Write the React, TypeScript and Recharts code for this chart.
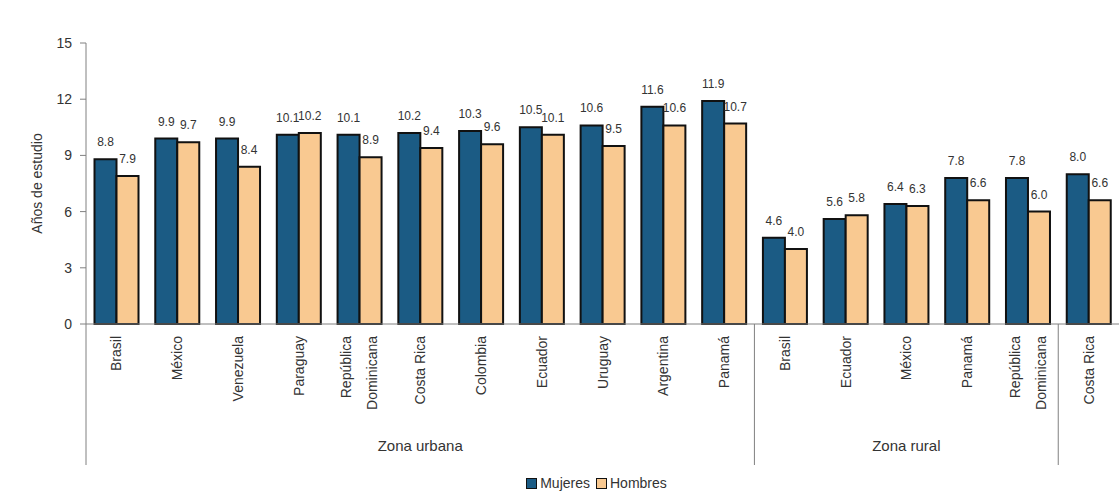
import React from 'react';
import { BarChart, Bar, XAxis, YAxis, LabelList, Legend } from 'recharts';

const categories = [
  'Brasil', 'México', 'Venezuela', 'Paraguay', 'República\nDominicana', 'Costa Rica',
  'Colombia', 'Ecuador', 'Uruguay', 'Argentina', 'Panamá',
  'Brasil', 'Ecuador', 'México', 'Panamá', 'República\nDominicana', 'Costa Rica',
];
const mujeres = [8.8, 9.9, 9.9, 10.1, 10.1, 10.2, 10.3, 10.5, 10.6, 11.6, 11.9, 4.6, 5.6, 6.4, 7.8, 7.8, 8.0];
const hombres = [7.9, 9.7, 8.4, 10.2, 8.9, 9.4, 9.6, 10.1, 9.5, 10.6, 10.7, 4.0, 5.8, 6.3, 6.6, 6.0, 6.6];
const groups = [
  { label: 'Zona urbana', from: 0, to: 10 },
  { label: 'Zona rural', from: 11, to: 15 },
  { label: '', from: 16, to: 16 },
];
const yTicks = [0, 3, 6, 9, 12, 15];
const seriesNames = ['Mujeres', 'Hombres'];

const data = categories.map((name, i) => ({ id: i, name, mujeres: mujeres[i], hombres: hombres[i] }));

const W = 1119;
const H = 495;
const Y_W = 86;
const FONT = '"Liberation Sans", Arial, sans-serif';
const BLUE = '#1b5b84';
const ORANGE = '#f9c991';
const TEXT = '#333';
const AXIS = '#808080';

const CategoryTick = (props: any) => {
  const { x, y, payload, index } = props;
  const half = payload && payload.offset ? payload.offset : (W - Y_W) / categories.length / 2;
  const label: string = categories[index] ?? String(payload.value);
  const lines = label.split('\n');
  const grp = groups.find((g) => g.from === index);
  const lineGap = 26;
  return (
    <g>
      <text
        transform={`translate(${x},${y + 12}) rotate(-90)`}
        textAnchor="end"
        fontSize={14}
        fill={TEXT}
        fontFamily={FONT}
      >
        {lines.map((l, i) => (
          <tspan key={i} x={0} y={5 + (i - (lines.length - 1) / 2) * lineGap}>
            {l}
          </tspan>
        ))}
      </text>
      {grp && (
        <line x1={x - half} x2={x - half} y1={y} y2={y + 141} stroke={AXIS} strokeWidth={1} />
      )}
      {grp && grp.label && (
        <text
          x={x - half + ((grp.to - grp.from + 1) * half * 2) / 2}
          y={y + 127}
          textAnchor="middle"
          fontSize={15}
          fill={TEXT}
          fontFamily={FONT}
        >
          {grp.label}
        </text>
      )}
    </g>
  );
};

const ValueLabel = (props: any) => {
  const { x, y, width, value } = props;
  if (value == null) return null;
  return (
    <text
      x={Number(x) + Number(width) / 2}
      y={Number(y) - 13}
      textAnchor="middle"
      fontSize={12}
      fill={TEXT}
      fontFamily={FONT}
    >
      {Number(value).toFixed(1)}
    </text>
  );
};

const LegendContent = () => (
  <div
    style={{
      display: 'flex',
      justifyContent: 'center',
      alignItems: 'center',
      paddingLeft: 80,
      fontFamily: FONT,
      fontSize: 14,
      color: TEXT,
      height: 24,
    }}
  >
    {seriesNames.map((n, i) => (
      <div key={n} style={{ display: 'flex', alignItems: 'center', marginRight: 6 }}>
        <span
          style={{
            display: 'inline-block',
            width: 9,
            height: 9,
            background: i === 0 ? BLUE : ORANGE,
            border: '1.5px solid #111',
            marginRight: 3,
          }}
        />
        <span>{n}</span>
      </div>
    ))}
  </div>
);

export default function App() {
  return (
    <div style={{ position: 'absolute', left: 0, top: 0, width: W, height: H, background: '#fff' }}>
      <BarChart
        width={W}
        height={H}
        data={data}
        margin={{ top: 43, right: 0, bottom: 0, left: 0 }}
        barCategoryGap="14%"
        barGap={0}
      >
        <YAxis
          width={Y_W}
          domain={[0, 15]}
          ticks={yTicks}
          interval={0}
          tickSize={6}
          tickMargin={8}
          axisLine={{ stroke: AXIS }}
          tickLine={{ stroke: AXIS }}
          tick={{ fontSize: 14, fill: TEXT, fontFamily: FONT }}
          label={{
            value: 'Años de estudio',
            angle: -90,
            position: 'center',
            dx: -6,
            style: { fontSize: 14, fill: TEXT, fontFamily: FONT, textAnchor: 'middle' },
          }}
        />
        <XAxis
          dataKey="id"
          interval={0}
          height={147}
          tickLine={false}
          tickSize={0}
          tickMargin={0}
          axisLine={{ stroke: AXIS }}
          tick={<CategoryTick />}
        />
        <Legend verticalAlign="bottom" height={24} content={<LegendContent />} />
        <Bar dataKey="mujeres" name="Mujeres" fill={BLUE} stroke="#111" strokeWidth={2} isAnimationActive={false}>
          <LabelList dataKey="mujeres" content={<ValueLabel />} />
        </Bar>
        <Bar dataKey="hombres" name="Hombres" fill={ORANGE} stroke="#111" strokeWidth={2} isAnimationActive={false}>
          <LabelList dataKey="hombres" content={<ValueLabel />} />
        </Bar>
      </BarChart>
    </div>
  );
}
